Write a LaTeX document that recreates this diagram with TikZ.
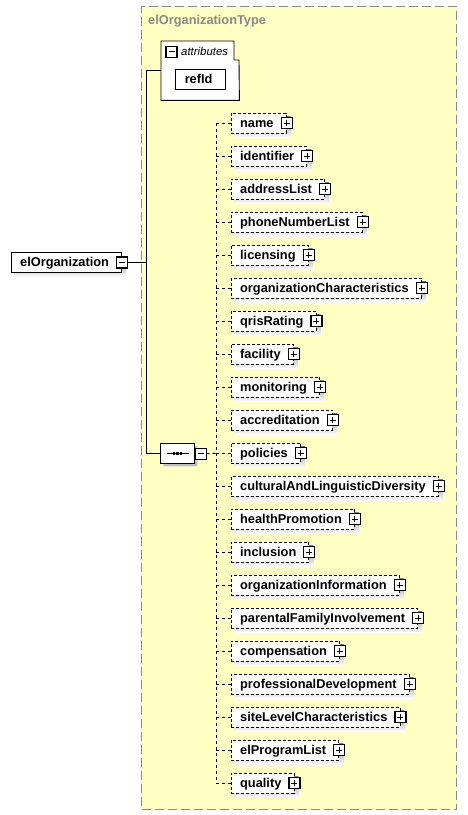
\documentclass[tikz,border=0pt]{standalone}
\usepackage{fontspec}
\setmainfont{Liberation Sans}
\usepackage{tikz}
\usetikzlibrary{positioning,shapes.misc}
\definecolor{typefill}{HTML}{FFFFC4}
\definecolor{framegray}{HTML}{8A8A8A}
\definecolor{shade}{HTML}{C0C0C0}
\pgfdeclarelayer{back}
\pgfdeclarelayer{shadow}
\pgfsetlayers{back,shadow,main}
\tikzset{
  typebox/.style={draw=framegray, line width=1.3pt, dash pattern=on 9pt off 4pt, fill=typefill, inner sep=0pt},
  title/.style={text=framegray, font=\fontsize{12.8}{15}\selectfont\bfseries, inner sep=0pt},
  boxed/.style={fill=white, font=\fontsize{12.8}{15}\selectfont\bfseries, text height=10pt, text depth=2pt,
    minimum height=20pt, inner ysep=0pt, inner xsep=9pt, execute at end node={\hspace{3.6pt}}},
  elem/.style={boxed, draw, line width=0.9pt},
  child/.style={boxed, draw, line width=0.9pt, dash pattern=on 3pt off 2pt},
  pm/.style={draw, fill=white, line width=1.1pt, minimum size=11pt, inner sep=0pt, outer sep=0pt},
  minus/.style={pm, path picture={\draw[line width=1pt]
    ([xshift=2.5pt]path picture bounding box.west) -- ([xshift=-2.5pt]path picture bounding box.east);}},
  plus/.style={pm, path picture={\draw[line width=1pt]
    ([xshift=2.5pt]path picture bounding box.west) -- ([xshift=-2.5pt]path picture bounding box.east)
    ([yshift=-2.5pt]path picture bounding box.north) -- ([yshift=2.5pt]path picture bounding box.south);}},
  seqshape/.style={chamfered rectangle, chamfered rectangle xsep=5pt,
    minimum width=33.6pt, minimum height=20pt, inner sep=0pt},
  seqbox/.style={seqshape, draw, line width=0.9pt, fill=white},
  wire/.style={line width=1pt},
  link/.style={line width=1pt, dash pattern=on 3pt off 3pt},
}
\newcommand\boxshadow[2]{%
  \begin{pgfonlayer}{shadow}
    \fill[shade] ([shift={(#2,-#2)}]#1.north west) rectangle ([shift={(#2,-#2)}]#1.south east);
  \end{pgfonlayer}}

\begin{document}
\begin{tikzpicture}[x=1pt,y=-1pt]
  \useasboundingbox (0,0) rectangle (467,815);

  % complex type frame
  \begin{pgfonlayer}{back}
    \node[typebox, anchor=north west, minimum width=315pt, minimum height=803pt] (frame) at (141,6) {};
  \end{pgfonlayer}
  \node[title, anchor=west] (ttl) at (148,21.5) {elOrganizationType};

  % attributes group
  \node[anchor=north west, minimum width=78pt, minimum height=59pt, inner sep=0pt] (attrs) at (161,41) {};
  \draw[line width=0.9pt, fill=white] (attrs.north west) -- ++(73,0) -- ++(0,19) -- ++(5,0)
    -- (attrs.south east) -- (attrs.south west) -- cycle;
  \node[minus, anchor=west] (attrsign) at (166,51.8) {};
  \node[anchor=west, inner sep=0pt, font=\fontsize{11.4}{13}\selectfont\itshape] (attrlbl) at (181,51.5) {attributes};
  \node[elem, anchor=north west] (refid) at (175.3,69.3) {refId};
  \boxshadow{refid}{4pt}

  % root element
  \node[elem, anchor=west] (root) at (10.7,262.5) {elOrganization};
  \boxshadow{root}{4pt}
  \node[minus] (rootsign) at (root.east) {};

  % sequence compositor
  \node[seqbox] (seq) at (177.5,453.3) {};
  \begin{pgfonlayer}{shadow}
    \node[seqshape, fill=shade] at ([shift={(3pt,-3pt)}]seq.center) {};
  \end{pgfonlayer}
  \draw[line width=1pt] ([xshift=-11pt]seq.center) -- ([xshift=11pt]seq.center);
  \foreach \dx in {-3.5,0,3.5}
    \fill ([xshift=\dx pt]seq.center) +(-1.3,-1.3) rectangle +(1.3,1.3);
  \node[minus] (seqsign) at (201,453.7) {};

  % trunk
  \coordinate (jn) at (146.7,262.5);
  \draw[wire] (rootsign.east) -- (jn);
  \draw[wire] (attrs.west) -- (attrs.west -| jn) -- (seq.west -| jn) -- (seq.west);

  % children of the sequence
  \coordinate (bus) at (216,453.3);
  \draw[link] (seqsign.east) -- (bus);
  \foreach \nm [count=\i] in {name,identifier,addressList,phoneNumberList,licensing,
      organizationCharacteristics,qrisRating,facility,monitoring,accreditation,policies,
      culturalAndLinguisticDiversity,healthPromotion,inclusion,organizationInformation,
      parentalFamilyInvolvement,compensation,professionalDevelopment,siteLevelCharacteristics,
      elProgramList,quality} {
    \node[child, anchor=west] (c\i) at (230.7,{90+33*\i}) {\nm};
    \boxshadow{c\i}{4pt}
    \node[plus] (p\i) at (c\i.east) {};
    \draw[link] (c\i.west -| bus) -- (c\i.west);
  }
  \draw[link] (bus |- c1.west) -- (bus |- c21.west);
\end{tikzpicture}
\end{document}
